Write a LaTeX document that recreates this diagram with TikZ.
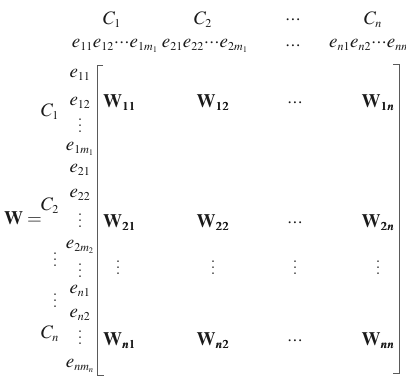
\documentclass[tikz,border=0pt]{standalone}
\definecolor{inkText}{HTML}{1A1A1A}
\definecolor{bracketGray}{HTML}{5A5A5A}
\usepackage{mathptmx}
\usepackage{tikz}
\usetikzlibrary{positioning}
\usepackage{amsmath}
\usepackage{bm}
\DeclareMathSizes{19}{19}{12}{8.5}
\newcommand{\blkW}[1]{\mathbf{W}_{\bm{#1}}}
\newcommand{\tdots}{{\cdot}{\cdot}{\cdot}}
\newcommand{\tvdots}{\vbox{\baselineskip=6pt\lineskiplimit=-10pt\hbox{.}\hbox{.}\hbox{.}}}

\begin{document}
\begin{tikzpicture}[x=1pt, y=-1pt,
    lbl/.style={inner sep=0pt, text=inkText, font=\fontsize{19}{21}\selectfont},
    vdt/.style={lbl, font=\fontsize{20}{6}\selectfont}]
  \useasboundingbox (0,0) rectangle (406,377);

  % column heads
  \node[lbl] (colC1) at (112,20) {$C_1$};
  \node[lbl] (colC2) at (203,20) {$C_2$};
  \node[lbl] (colDots) at (293,20) {$\tdots$};
  \node[lbl] (colCn) at (373,20) {$C_n$};
  \node[lbl] (colE1) at (115,46) {$e_{11}e_{12}\tdots e_{1m_1}$};
  \node[lbl] (colE2) at (205,46) {$e_{21}e_{22}\tdots e_{2m_1}$};
  \node[lbl] (colEDots) at (293,46) {$\tdots$};
  \node[lbl, anchor=west] (colEn) at (329,46) {$e_{n1}e_{n2}\tdots e_{nm_n}$};

  % row heads
  \node[lbl] (rowE11) at (80,75) {$e_{11}$};
  \node[lbl] (rowE12) at (80,103) {$e_{12}$};
  \node[vdt] (rowV1) at (80,126) {\tvdots};
  \node[lbl] (rowE1m) at (80,149) {$e_{1m_1}$};
  \node[lbl] (rowE21) at (80,170) {$e_{21}$};
  \node[lbl] (rowE22) at (80,195) {$e_{22}$};
  \node[vdt] (rowV2) at (80,221) {\tvdots};
  \node[lbl] (rowE2m) at (80,247) {$e_{2m_2}$};
  \node[vdt] (rowV3) at (80,271) {\tvdots};
  \node[lbl] (rowEn1) at (80,291) {$e_{n1}$};
  \node[lbl] (rowEn2) at (80,315) {$e_{n2}$};
  \node[vdt] (rowV4) at (80,338) {\tvdots};
  \node[lbl] (rowEnm) at (80,366) {$e_{nm_n}$};
  \node[lbl] (rowC1) at (50,112) {$C_1$};
  \node[lbl] (rowC2) at (50,206) {$C_2$};
  \node[vdt] (rowCV1) at (55,260) {\tvdots};
  \node[vdt] (rowCV2) at (55,301) {\tvdots};
  \node[lbl] (rowCn) at (50,334) {$C_n$};
  \node[lbl] (lhsW) at (23,218) {$\mathbf{W}=$};

  % bracket
  \draw[bracketGray, line width=0.9pt] (103,65) -- (97,65) -- (97,375) -- (104,375);
  \draw[bracketGray, line width=0.9pt] (393,64) -- (399,64) -- (399,373) -- (393,373);

  % blocks
  \node[lbl, anchor=west] (w11) at (103,103) {$\blkW{11}$};
  \node[lbl] (w12) at (213,103) {$\blkW{12}$};
  \node[lbl] (w1d) at (295,103) {$\tdots$};
  \node[lbl] (w1n) at (378,103) {$\blkW{1n}$};
  \node[lbl, anchor=west] (w21) at (103,223) {$\blkW{21}$};
  \node[lbl] (w22) at (213,223) {$\blkW{22}$};
  \node[lbl] (w2d) at (295,223) {$\tdots$};
  \node[lbl] (w2n) at (378,223) {$\blkW{2n}$};
  \node[vdt] (wv1) at (118,268) {\tvdots};
  \node[vdt] (wv2) at (213,268) {\tvdots};
  \node[vdt] (wv3) at (295,268) {\tvdots};
  \node[vdt] (wv4) at (378,268) {\tvdots};
  \node[lbl, anchor=west] (wn1) at (103,341) {$\blkW{n1}$};
  \node[lbl] (wn2) at (213,341) {$\blkW{n2}$};
  \node[lbl] (wnd) at (295,341) {$\tdots$};
  \node[lbl] (wnn) at (378,341) {$\blkW{nn}$};
\end{tikzpicture}
\end{document}
